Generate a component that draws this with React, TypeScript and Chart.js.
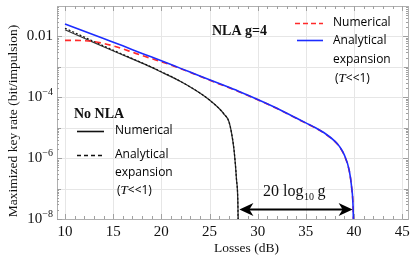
import React, { useEffect, useRef } from "react";
import { Chart, registerables } from "chart.js";

Chart.register(...registerables);

// Losses (dB) and log10 of maximized key rate (bit/impulsion)
const nlaLosses = [10, 12, 14, 16, 18, 20, 22, 24, 26, 28, 30, 32, 34, 35, 36, 37, 38, 38.5, 39, 39.5, 39.75, 39.9, 40];
const nlaAnalyticalLog = [-1.59, -1.83, -2.07, -2.31, -2.56, -2.8, -3.05, -3.3, -3.55, -3.8, -4.07, -4.36, -4.68, -4.84, -5.0, -5.19, -5.44, -5.62, -5.9, -6.4, -6.95, -7.6, -9];
const nlaNumLosses = [10, 11, 12, 13, 14, 15, 16, 17, 18, 19, 20, 22, 24, 26, 28, 30, 32, 34, 35, 36, 37, 38, 38.5, 39, 39.5, 39.75, 39.9, 40];
const nlaNumericalLog = [-2.13, -2.13, -2.14, -2.17, -2.23, -2.31, -2.41, -2.52, -2.63, -2.73, -2.83, -3.06, -3.31, -3.56, -3.81, -4.08, -4.37, -4.69, -4.85, -5.01, -5.2, -5.45, -5.63, -5.92, -6.42, -6.97, -7.62, -9];
const noNlaLosses = [10, 12, 14, 16, 18, 19, 20, 21, 22, 23, 24, 25, 26, 26.5, 27, 27.3, 27.55, 27.8, 27.95, 28];
const noNlaNumericalLog = [-1.78, -2.06, -2.34, -2.61, -2.88, -3.02, -3.17, -3.32, -3.48, -3.66, -3.86, -4.09, -4.37, -4.55, -4.79, -5.2, -5.75, -6.7, -7.6, -9];
const noNlaAnalyticalLog = [-1.73, -2.02, -2.31, -2.59, -2.87, -3.01, -3.16, -3.31, -3.48, -3.66, -3.86, -4.09, -4.37, -4.55, -4.79, -5.2, -5.75, -6.7, -7.6, -9];

const xTicks = [10, 15, 20, 25, 30, 35, 40, 45];
const yTickExps = [-2, -4, -6, -8];

const pts = (xs: number[], logs: number[]) => xs.map((x, i) => ({ x, y: Math.pow(10, logs[i]) }));

const SERIF = "'Liberation Serif', 'Times New Roman', serif";
const SANS = "'Open Sans', sans-serif";

const overlay = {
  id: "overlay",
  beforeDatasetsDraw(chart: any) {
    const { ctx, chartArea: a, scales } = chart;
    const xs = scales.x, ys = scales.y;
    ctx.save();
    ctx.strokeStyle = "#e6e6e6";
    ctx.lineWidth = 1;
    for (let v = 10; v <= 45; v += 5) {
      const px = Math.round(xs.getPixelForValue(v)) + 0.5;
      ctx.beginPath(); ctx.moveTo(px, a.top); ctx.lineTo(px, a.bottom); ctx.stroke();
    }
    for (let e = -8; e <= -1; e++) {
      const py = Math.round(ys.getPixelForValue(Math.pow(10, e))) + 0.5;
      ctx.beginPath(); ctx.moveTo(a.left, py); ctx.lineTo(a.right, py); ctx.stroke();
    }
    ctx.strokeStyle = "#b0b0b0";
    ctx.strokeRect(a.left + 0.5, a.top + 0.5, a.right - a.left, a.bottom - a.top);
    ctx.strokeStyle = "#a0a0a0";
    for (let v = 10; v <= 45; v += 1) {
      const px = Math.round(xs.getPixelForValue(v)) + 0.5;
      const len = v % 5 === 0 ? 5 : 3;
      ctx.beginPath(); ctx.moveTo(px, a.bottom); ctx.lineTo(px, a.bottom - len); ctx.stroke();
      ctx.beginPath(); ctx.moveTo(px, a.top); ctx.lineTo(px, a.top + len); ctx.stroke();
    }
    for (let e = -8; e < -1; e++) {
      for (let m = 1; m <= 9; m++) {
        const py = Math.round(ys.getPixelForValue(m * Math.pow(10, e))) + 0.5;
        const len = m === 1 ? (e % 2 === 0 ? 5 : 4) : 2;
        ctx.beginPath(); ctx.moveTo(a.left, py); ctx.lineTo(a.left + len, py); ctx.stroke();
        ctx.beginPath(); ctx.moveTo(a.right, py); ctx.lineTo(a.right - len, py); ctx.stroke();
      }
    }
    ctx.restore();
  },
  afterDraw(chart: any) {
    const { ctx, chartArea: a, scales } = chart;
    const xs = scales.x, ys = scales.y;
    ctx.save();
    ctx.fillStyle = "#111";
    ctx.font = `15px ${SERIF}`;
    ctx.textAlign = "center";
    ctx.textBaseline = "middle";
    xTicks.forEach((v) => ctx.fillText(String(v), xs.getPixelForValue(v), a.bottom + 13));
    ctx.textAlign = "right";
    yTickExps.forEach((e) => {
      const py = ys.getPixelForValue(Math.pow(10, e));
      const right = a.left - 4;
      if (e === -2) {
        ctx.font = `15px ${SERIF}`;
        ctx.fillText("0.01", right, py);
      } else {
        ctx.font = `10px ${SERIF}`;
        const sup = "\u2212" + String(-e);
        const sw = ctx.measureText(sup).width;
        ctx.fillText(sup, right, py - 5);
        ctx.font = `15px ${SERIF}`;
        ctx.fillText("10", right - sw, py);
      }
    });
    ctx.textAlign = "center";
    ctx.font = `13.5px ${SERIF}`;
    ctx.fillText("Losses (dB)", (a.left + a.right) / 2 + 14, a.bottom + 29);
    ctx.save();
    ctx.translate(13, 121);
    ctx.rotate(-Math.PI / 2);
    ctx.fillText("Maximized key rate (bit/impulsion)", 0, 0);
    ctx.restore();

    ctx.textAlign = "left";
    ctx.textBaseline = "alphabetic";
    ctx.font = `bold 14px ${SERIF}`;
    ctx.fillText("NLA g=4", 212, 35);
    ctx.fillText("No NLA", 74, 118);

    const legendLine = (x1: number, x2: number, y: number, color: string, dash: number[], w: number) => {
      ctx.save();
      ctx.strokeStyle = color; ctx.lineWidth = w; ctx.setLineDash(dash);
      ctx.beginPath(); ctx.moveTo(x1, y); ctx.lineTo(x2, y); ctx.stroke();
      ctx.restore();
    };
    const tLine = (x: number, y: number) => {
      ctx.textBaseline = "middle";
      ctx.font = `12px ${SANS}`;
      ctx.fillText("(", x, y);
      let cx = x + ctx.measureText("(").width;
      ctx.font = `italic 13px ${SERIF}`;
      ctx.fillText("T", cx, y);
      cx += ctx.measureText("T").width;
      ctx.font = `12px ${SANS}`;
      ctx.fillText("<<1)", cx, y);
    };
    ctx.fillStyle = "#000";
    ctx.textBaseline = "middle";
    ctx.font = `12px ${SANS}`;
    legendLine(295, 323, 23.5, "#ff2a2a", [5, 3], 1.6);
    ctx.fillText("Numerical", 333, 23);
    legendLine(297, 323, 40.5, "#1c2cff", [], 1.6);
    ctx.fillText("Analytical", 333, 41);
    ctx.fillText("expansion", 333, 60);
    tLine(335, 79);
    ctx.font = `12px ${SANS}`;
    legendLine(77, 104, 131.5, "#111", [], 1.6);
    ctx.fillText("Numerical", 115, 131);
    legendLine(77, 104, 155.5, "#111", [4, 3], 1.6);
    ctx.fillText("Analytical", 115, 155);
    ctx.fillText("expansion", 115, 173);
    tLine(117, 191);

    const ay = ys.getPixelForValue(Math.pow(10, -7.69));
    const x1 = xs.getPixelForValue(28.1);
    const x2 = xs.getPixelForValue(39.85);
    ctx.strokeStyle = "#000"; ctx.fillStyle = "#000"; ctx.lineWidth = 2;
    ctx.beginPath(); ctx.moveTo(x1 + 8, ay); ctx.lineTo(x2 - 8, ay); ctx.stroke();
    const head = (tipX: number, dir: number) => {
      ctx.beginPath();
      ctx.moveTo(tipX, ay);
      ctx.lineTo(tipX - dir * 14, ay - 6.5);
      ctx.lineTo(tipX - dir * 10, ay);
      ctx.lineTo(tipX - dir * 14, ay + 6.5);
      ctx.closePath();
      ctx.fill();
    };
    head(x1, -1);
    head(x2, 1);
    ctx.fillStyle = "#111";
    ctx.textBaseline = "alphabetic";
    ctx.font = `16px ${SERIF}`;
    let tx = 263;
    const by = 196;
    ctx.fillText("20 log", tx, by);
    tx += ctx.measureText("20 log").width;
    ctx.font = `10px ${SERIF}`;
    ctx.fillText("10", tx + 0.5, by + 4);
    tx += ctx.measureText("10").width + 4;
    ctx.font = `16px ${SERIF}`;
    ctx.fillText("g", tx, by);
    ctx.restore();
  },
};

export default function App() {
  const ref = useRef<HTMLCanvasElement | null>(null);
  useEffect(() => {
    if (!ref.current) return;
    const chart = new Chart(ref.current, {
      type: "line",
      data: {
        datasets: [
          { label: "NLA analytical", data: pts(nlaLosses, nlaAnalyticalLog), borderColor: "#1c2cff", borderWidth: 1.6, pointRadius: 0, cubicInterpolationMode: "monotone" },
          { label: "NLA numerical", data: pts(nlaNumLosses, nlaNumericalLog), borderColor: "#ff2a2a", borderWidth: 1.6, borderDash: [6, 4], pointRadius: 0, cubicInterpolationMode: "monotone" },
          { label: "No NLA analytical", data: pts(noNlaLosses, noNlaAnalyticalLog), borderColor: "#111", borderWidth: 1.2, borderDash: [2, 2], pointRadius: 0, cubicInterpolationMode: "monotone" },
          { label: "No NLA numerical", data: pts(noNlaLosses, noNlaNumericalLog), borderColor: "#333", borderWidth: 1.3, pointRadius: 0, cubicInterpolationMode: "monotone" },
        ],
      },
      options: {
        animation: false,
        responsive: true,
        maintainAspectRatio: false,
        parsing: false as any,
        layout: { padding: { left: 57, right: 7, top: 6, bottom: 39 } },
        plugins: { legend: { display: false }, tooltip: { enabled: false } },
        scales: {
          x: { type: "linear", min: 9.17, max: 45.6, display: false },
          y: { type: "logarithmic", min: 1e-8, max: 0.1, display: false },
        },
      },
      plugins: [overlay],
    });
    return () => chart.destroy();
  }, []);
  return (
    <div style={{ position: "fixed", left: 0, top: 0, width: 415, height: 258, background: "#fff" }}>
      <canvas ref={ref} />
    </div>
  );
}
